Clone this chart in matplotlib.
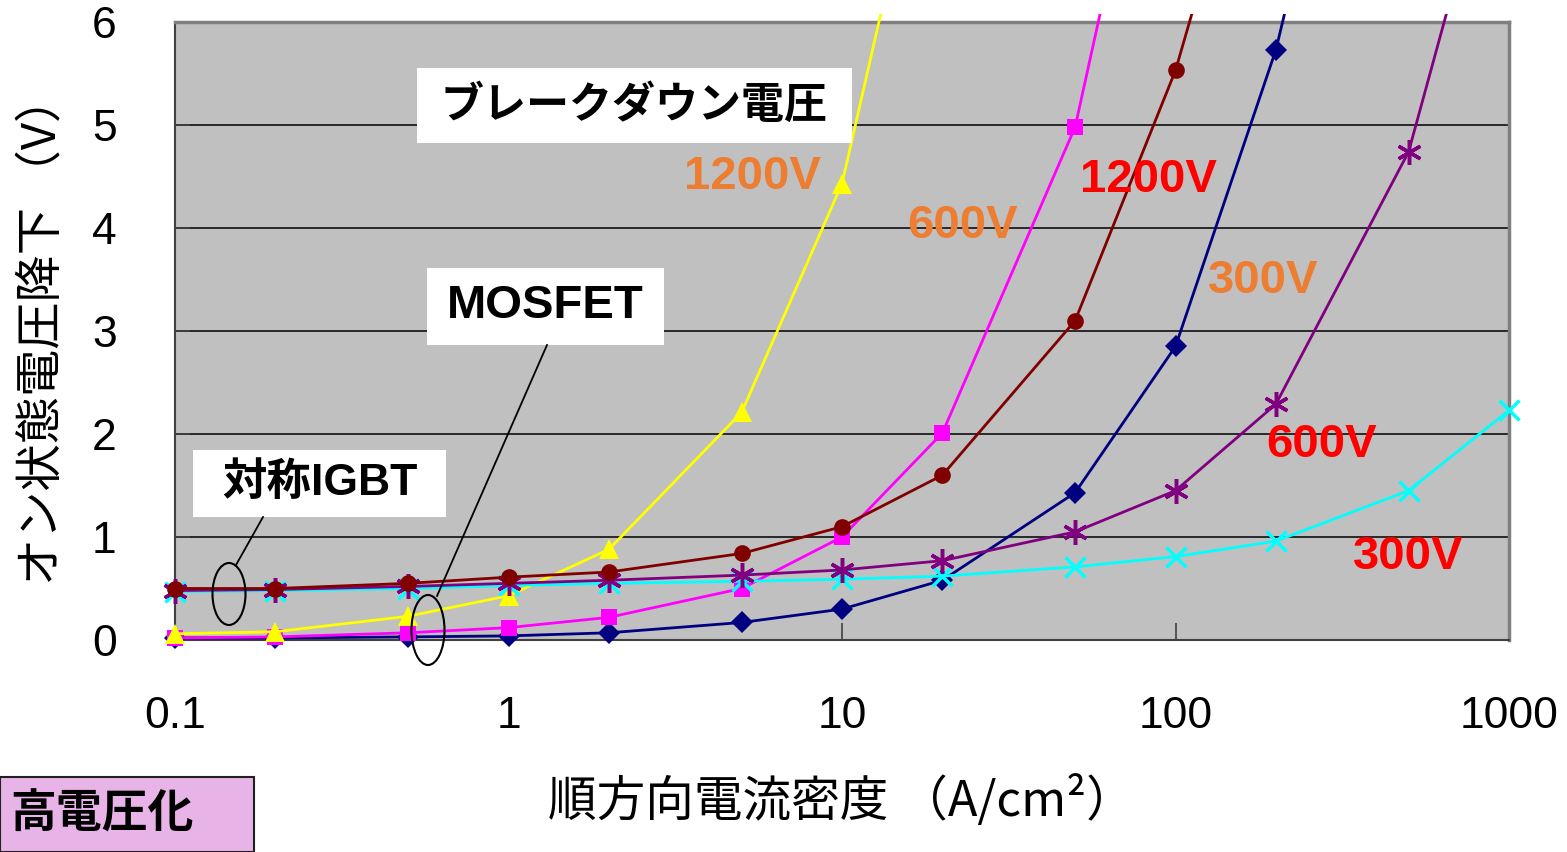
import matplotlib
matplotlib.use('Agg')
import matplotlib.pyplot as plt
from matplotlib.patches import Rectangle, Ellipse
from matplotlib.lines import Line2D

plt.rcParams['font.family'] = ['Liberation Sans', 'Noto Sans CJK JP', 'DejaVu Sans']
JP = ['Noto Sans CJK JP', 'DejaVu Sans']

# current density (A/cm2)
x_all = [0.1, 0.2, 0.5, 1, 2, 5, 10, 20, 50, 100, 200, 500, 1000]

# on-state voltage drop (V), values above 6 run off the top of the chart
mos_1200 = [0.06, 0.08, 0.23, 0.43, 0.88, 2.21, 4.43, 8.7]
mos_600 = [0.02, 0.03, 0.07, 0.12, 0.22, 0.50, 1.00, 2.01, 4.98, 9.4]
mos_300 = [0.02, 0.02, 0.03, 0.04, 0.07, 0.17, 0.30, 0.58, 1.43, 2.85, 5.73, 11.1]
igbt_1200 = [0.50, 0.50, 0.55, 0.61, 0.66, 0.84, 1.10, 1.60, 3.10, 5.53, 8.9]
igbt_600 = [0.48, 0.49, 0.52, 0.55, 0.58, 0.63, 0.68, 0.77, 1.05, 1.45, 2.29, 4.74, 8.3]
igbt_300 = [0.47, 0.48, 0.50, 0.53, 0.55, 0.57, 0.59, 0.62, 0.71, 0.81, 0.96, 1.45, 2.23]

x_ticks = [0.1, 1, 10, 100, 1000]
x_tick_labels = ['0.1', '1', '10', '100', '1000']
y_ticks = [0, 1, 2, 3, 4, 5, 6]

W, H = 1567, 852


def fx(x):
    return x / W


def fy(y):
    return 1 - y / H


fig = plt.figure(figsize=(W / 100, H / 100), dpi=100)
ax = fig.add_axes([fx(175), fy(640), (1509 - 175) / W, (640 - 22) / H])
ax.set_facecolor('#C0C0C0')
ax.set_xscale('log')
ax.set_xlim(0.1, 1000)
ax.set_ylim(0, 6)

for v in y_ticks[1:-1]:
    ax.axhline(v, color='black', lw=1.1, zorder=1)

clip = Rectangle((-0.1, -0.2), 1.2, 1.213, transform=ax.transAxes)

series = [
    (mos_300, '#000080', 'D', 11, 0),
    (mos_600, '#FF00FF', 's', 11, 0),
    (mos_1200, '#FFFF00', '^', 14, 0),
    (igbt_300, '#00FFFF', 'x', 14, 2.5),
    (igbt_600, '#800080', (6, 2, 0), 18, 2.5),
    (igbt_1200, '#800000', 'o', 12, 0),
]
for ys, col, mk, ms, mew in series:
    ln, = ax.plot(x_all[:len(ys)], ys, color=col, lw=2, marker=mk,
                  markersize=ms, markeredgewidth=mew, markeredgecolor=col,
                  zorder=3)
    ln.set_clip_path(clip)

ax.xaxis.set_major_locator(matplotlib.ticker.FixedLocator(x_ticks))
ax.xaxis.set_minor_locator(matplotlib.ticker.NullLocator())
ax.set_xticks(x_ticks)
ax.set_xticklabels(x_tick_labels)
ax.set_yticks(y_ticks)
ax.set_yticklabels([str(v) for v in y_ticks])
ax.tick_params(axis='x', direction='in', length=12, width=1.2, color='#404040',
               labelsize=32, pad=40)
ax.tick_params(axis='y', direction='in', length=11, width=1.2, color='#404040',
               labelsize=32, pad=42)

for s in ['left', 'bottom']:
    ax.spines[s].set_color('#404040')
    ax.spines[s].set_linewidth(1.5)
for s in ['top', 'right']:
    ax.spines[s].set_color('#808080')
    ax.spines[s].set_linewidth(2.5)

# axis labels
fig.text(fx(42), fy(330), 'オン状態電圧降下 （V）', rotation=90, ha='center',
         va='center', fontsize=34, family=JP)
fig.text(fx(841), fy(801), '順方向電流密度 （A/cm²）', ha='center', va='center',
         fontsize=35, family=JP)

# white label boxes
boxes = [
    ('ブレークダウン電圧', 417, 68, 852, 143, 31),
    ('MOSFET', 427, 268, 664, 345, 34),
    ('対称IGBT', 193, 450, 446, 517, 32),
]
for txt, x0, y0, x1, y1, fs in boxes:
    fig.add_artist(Rectangle((fx(x0), fy(y1)), (x1 - x0) / W, (y1 - y0) / H,
                             transform=fig.transFigure, facecolor='white',
                             edgecolor='none', zorder=5))
    fig.text(fx((x0 + x1) / 2), fy((y0 + y1) / 2), txt, ha='center',
             va='center', fontsize=fs, fontweight='bold', family=['Liberation Sans'] + JP,
             zorder=6)

# voltage labels
orange = '#ED7D31'
red = '#FF0000'
labels = [
    ('1200V', 752, 177, orange),
    ('600V', 963, 226, orange),
    ('300V', 1263, 281, orange),
    ('1200V', 1148, 180, red),
    ('600V', 1322, 445, red),
    ('300V', 1408, 557, red),
]
for txt, x, y, col in labels:
    fig.text(fx(x), fy(y), txt, ha='center', va='center', fontsize=34,
             fontweight='bold', color=col, zorder=6)

# ellipses and leader lines
for cx, cy, w, h in [(229, 594, 33, 62), (428, 630, 33, 70)]:
    fig.add_artist(Ellipse((fx(cx), fy(cy)), w / W, h / H, transform=fig.transFigure,
                           facecolor='none', edgecolor='black', lw=1.5, zorder=7))
for (xa, ya), (xb, yb) in [((263, 517), (236, 565)), ((547, 345), (437, 596))]:
    fig.add_artist(Line2D([fx(xa), fx(xb)], [fy(ya), fy(yb)], transform=fig.transFigure,
                          color='black', lw=1.3, zorder=7))

# bottom-left tag
fig.add_artist(Rectangle((fx(0), fy(852)), 254 / W, 75 / H, transform=fig.transFigure,
                         facecolor='#E8B4E8', edgecolor='#202020', lw=1.5, zorder=5))
fig.text(fx(10), fy(815), '高電圧化', ha='left', va='center', fontsize=33,
         fontweight='bold', family=JP, zorder=6)

fig.savefig('out.png', dpi=100)
